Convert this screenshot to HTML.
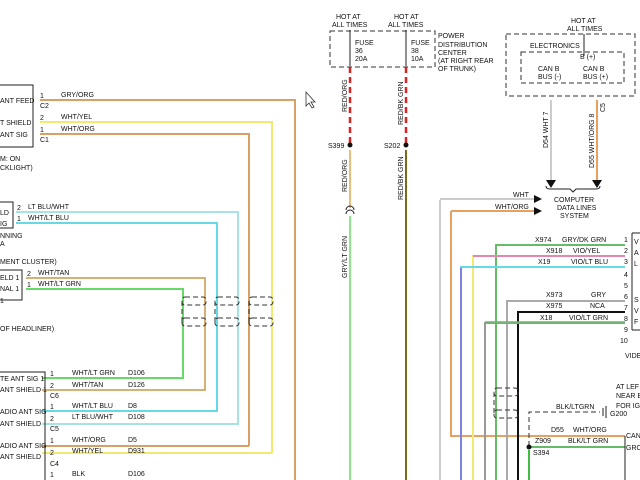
<!DOCTYPE html>
<html><head><meta charset="utf-8"><style>
html,body{margin:0;padding:0;background:#fff;width:640px;height:480px;overflow:hidden}
svg{display:block}
text{font-family:"Liberation Sans",sans-serif;font-size:7px;fill:#111}
</style></head><body>
<svg width="640" height="480" viewBox="0 0 640 480" xmlns="http://www.w3.org/2000/svg">
<rect width="640" height="480" fill="#fff"/>
<g fill="none" stroke-width="2">
<polyline points="40,100 295,100 295,480" stroke="#d9a066"/>
<polyline points="40,122 272,122 272,453" stroke="#f2ea70"/>
<polyline points="40,134 249,134 249,446" stroke="#d9a066"/>
<polyline points="42,453 272,453" stroke="#f2ea70"/>
<polyline points="42,446 249,446" stroke="#d9a066"/>
<polyline points="16,212 238,212 238,424 42,424" stroke="#a6e3e6"/>
<polyline points="16,223 217,223 217,411 42,411" stroke="#66d9e6"/>
<polyline points="26,278 205,278 205,390 42,390" stroke="#d9b073"/>
<polyline points="26,289 183,289 183,378 42,378" stroke="#66d966"/>
<line x1="350" y1="150" x2="350" y2="208" stroke="#e8a64d" stroke-width="1.5"/>
<line x1="350" y1="216" x2="350" y2="480" stroke="#66dd66" stroke-width="1.5"/>
<line x1="406" y1="150" x2="406" y2="480" stroke="#7a6a1a"/>
<line x1="440" y1="200" x2="440" y2="480" stroke="#cccccc"/>
<polyline points="440,199 540,199" stroke="#cccccc"/>
<polyline points="451,211 451,436 625,436" stroke="#e8a060"/>
<line x1="451" y1="211" x2="540" y2="211" stroke="#e8a060"/>
<line x1="551" y1="100" x2="551" y2="180" stroke="#cccccc"/>
<line x1="597" y1="100" x2="597" y2="180" stroke="#e8a060"/>
<polyline points="496,480 496,245 625,245" stroke="#66bb66"/>
<polyline points="473,480 473,256 625,256" stroke="#f2ea70"/>
<line x1="473" y1="256" x2="625" y2="256" stroke="#e066c0" stroke-width="1.5"/>
<polyline points="461,480 461,267 625,267" stroke="#66d9e6"/>
<line x1="461" y1="268" x2="461" y2="480" stroke="#8866dd" stroke-width="1.5"/>
<polyline points="507,480 507,301 625,301" stroke="#aaaaaa"/>
<polyline points="518,480 518,312 625,312" stroke="#111"/>
<polyline points="485,480 485,323 625,323" stroke="#999"/>
<line x1="485" y1="322" x2="625" y2="322" stroke="#66bb66" stroke-width="1.5"/>
<line x1="529" y1="447" x2="625" y2="447" stroke="#66bb66"/>
<line x1="529" y1="450" x2="529" y2="480" stroke="#44bb44"/>
</g>
<g stroke-width="2.5" stroke-dasharray="6,4" fill="none">
<line x1="350" y1="67" x2="350" y2="143" stroke="#dd2222"/>
<line x1="406" y1="67" x2="406" y2="143" stroke="#dd2222"/>
</g>
<g fill="none" stroke="#333" stroke-width="1" stroke-dasharray="5,3">
<rect x="330" y="31" width="105" height="36"/>
<rect x="506" y="34" width="129" height="62"/>
<rect x="521" y="52" width="103" height="31"/>
<polyline points="529,446 529,412 600,412"/>
<rect x="182" y="297" width="24" height="8" rx="3"/><rect x="182" y="318" width="24" height="8" rx="3"/>
<rect x="215" y="297" width="24" height="8" rx="3"/><rect x="215" y="318" width="24" height="8" rx="3"/>
<rect x="249" y="297" width="24" height="8" rx="3"/><rect x="249" y="318" width="24" height="8" rx="3"/>
<rect x="494" y="388" width="24" height="8" rx="3"/><rect x="494" y="410" width="24" height="8" rx="3"/>
<line x1="182" y1="301" x2="182" y2="322"/><line x1="215" y1="301" x2="215" y2="322"/><line x1="249" y1="301" x2="249" y2="322"/><line x1="494" y1="392" x2="494" y2="414"/>
</g>
<g stroke="#222" stroke-width="1" fill="none">
<line x1="350" y1="30" x2="350" y2="66"/><line x1="406" y1="30" x2="406" y2="66"/>
<line x1="584" y1="34" x2="584" y2="56"/>
<rect x="-5" y="85" width="38" height="62"/>
<rect x="-5" y="202" width="18" height="26"/>
<rect x="-5" y="270" width="27" height="30"/>
<rect x="-5" y="372" width="50" height="120"/>
<polyline points="632,233 640,233"/><line x1="632" y1="233" x2="632" y2="330"/><line x1="632" y1="330" x2="640" y2="330"/>
<polyline points="625,436 625,480"/>
<line x1="606" y1="406" x2="606" y2="418"/><line x1="603" y1="408" x2="603" y2="416"/>
<path d="M346,214 a4,4 0 0 1 8,0 M346,210 a4,4 0 0 1 8,0"/>
</g>
<g fill="#111">
<circle cx="350" cy="145" r="2.5"/><circle cx="406" cy="145" r="2.5"/><circle cx="529" cy="447" r="2.5"/>
<polygon points="546,180 556,180 551,188"/><polygon points="592,180 602,180 597,188"/>
<polygon points="534,195 542,199 534,203"/><polygon points="534,207 542,211 534,215"/>
</g>
<text x="0" y="103">ANT FEED</text><text x="0" y="125">T SHIELD</text><text x="0" y="137">ANT SIG</text>
<text x="0" y="161">M: ON</text><text x="0" y="170">CKLIGHT)</text>
<text x="0" y="215">LD</text><text x="0" y="226">IG</text><text x="0" y="238">NNING</text><text x="0" y="246">A</text>
<text x="0" y="264">MENT CLUSTER)</text><text x="0" y="280">ELD 1</text><text x="0" y="291">NAL 1</text><text x="0" y="303">1</text>
<text x="0" y="331">OF HEADLINER)</text>
<text x="0" y="381">TE ANT SIG 1</text><text x="0" y="392">ANT SHIELD 1</text>
<text x="0" y="414">ADIO ANT SIG</text><text x="0" y="426">ANT SHIELD</text>
<text x="0" y="448">ADIO ANT SIG</text><text x="0" y="459">ANT SHIELD</text>
<g font-size="6"><text x="40" y="98">1</text><text x="40" y="108">C2</text><text x="40" y="120">2</text><text x="40" y="132">1</text><text x="40" y="142">C1</text>
<text x="17" y="210">2</text><text x="17" y="221">1</text><text x="27" y="276">2</text><text x="27" y="287">1</text>
<text x="50" y="376">1</text><text x="50" y="388">2</text><text x="50" y="398">C6</text><text x="50" y="409">1</text><text x="50" y="421">2</text><text x="50" y="431">C5</text>
<text x="50" y="443">1</text><text x="50" y="455">2</text><text x="50" y="466">C4</text><text x="50" y="477">1</text></g>
<text x="61" y="97">GRY/ORG</text><text x="61" y="119">WHT/YEL</text><text x="61" y="131">WHT/ORG</text>
<text x="28" y="209">LT BLU/WHT</text><text x="28" y="220">WHT/LT BLU</text><text x="38" y="275">WHT/TAN</text><text x="38" y="286">WHT/LT GRN</text>
<text x="72" y="375">WHT/LT GRN</text><text x="128" y="375">D106</text><text x="72" y="387">WHT/TAN</text><text x="128" y="387">D126</text>
<text x="72" y="408">WHT/LT BLU</text><text x="128" y="408">D8</text><text x="72" y="419">LT BLU/WHT</text><text x="128" y="419">D108</text>
<text x="72" y="442">WHT/ORG</text><text x="128" y="442">D5</text><text x="72" y="453">WHT/YEL</text><text x="128" y="453">D931</text>
<text x="72" y="476">BLK</text><text x="128" y="476">D106</text>
<text x="336" y="19">HOT AT</text><text x="332" y="27">ALL TIMES</text><text x="394" y="19">HOT AT</text><text x="388" y="27">ALL TIMES</text>
<text x="355" y="45">FUSE</text><text x="355" y="53">36</text><text x="355" y="61">20A</text>
<text x="411" y="45">FUSE</text><text x="411" y="53">38</text><text x="411" y="61">10A</text>
<text x="438" y="38">POWER</text><text x="438" y="47">DISTRIBUTION</text><text x="438" y="55">CENTER</text><text x="438" y="63">(AT RIGHT REAR</text><text x="438" y="71">OF TRUNK)</text>
<text x="328" y="148" font-size="6">S399</text><text x="384" y="148" font-size="6">S202</text>
<g font-size="5.5"><text transform="translate(347,112) rotate(-90)">RED/ORG</text><text transform="translate(403,125) rotate(-90)">RED/BK GRN</text>
<text transform="translate(347,192) rotate(-90)">RED/ORG</text><text transform="translate(403,200) rotate(-90)">RED/BK GRN</text>
<text transform="translate(347,278) rotate(-90)">GRY/LT GRN</text>
<text transform="translate(548,148) rotate(-90)">D54  WHT  7</text><text transform="translate(594,168) rotate(-90)">D55  WHT/ORG  8</text>
<text transform="translate(605,112) rotate(-90)">C5</text></g>
<text x="571" y="23">HOT AT</text><text x="567" y="31">ALL TIMES</text>
<text x="530" y="48">ELECTRONICS</text><text x="580" y="59">B (+)</text>
<text x="538" y="71">CAN B</text><text x="538" y="79">BUS (-)</text><text x="583" y="71">CAN B</text><text x="583" y="79">BUS (+)</text>
<text x="513" y="197">WHT</text><text x="495" y="209">WHT/ORG</text>
<text x="554" y="202">COMPUTER</text><text x="557" y="210">DATA LINES</text><text x="560" y="218">SYSTEM</text>
<path d="M546,186 q0,3 4,3 h20 l3,3 l3,-3 h20 q4,0 4,-3" fill="none" stroke="#222"/>
<text x="535" y="242">X974</text><text x="562" y="242">GRY/DK GRN</text>
<text x="546" y="253">X918</text><text x="573" y="253">VIO/YEL</text>
<text x="538" y="264">X19</text><text x="571" y="264">VIO/LT BLU</text>
<text x="546" y="297">X973</text><text x="591" y="297">GRY</text>
<text x="546" y="308">X975</text><text x="590" y="308">NCA</text>
<text x="540" y="320">X18</text><text x="569" y="320">VIO/LT GRN</text>
<g font-size="6.5"><text x="624" y="242">1</text><text x="624" y="253">2</text><text x="624" y="264">3</text><text x="624" y="277">4</text><text x="624" y="288">5</text><text x="624" y="299">6</text><text x="624" y="310">7</text><text x="624" y="321">8</text><text x="624" y="332">9</text><text x="620" y="343">10</text></g>
<text x="634" y="244">V</text><text x="634" y="255">A</text><text x="634" y="266">L</text><text x="634" y="302">S</text><text x="634" y="313">V</text><text x="634" y="324">F</text>
<text x="625" y="358">VIDE</text>
<text x="616" y="389">AT LEF</text><text x="616" y="398">NEAR B</text><text x="616" y="408">FOR IG</text><text x="610" y="416">G200</text>
<text x="556" y="409">BLK/LTGRN</text>
<text x="551" y="432">D55</text><text x="573" y="432">WHT/ORG</text>
<text x="535" y="443">Z909</text><text x="568" y="443">BLK/LT GRN</text>
<text x="533" y="455" font-size="6">S394</text>
<text x="626" y="438">CAN</text><text x="626" y="450">GRO</text>
<path d="M306,92 l0,14 l3,-3 l3,5 l2,-1 l-3,-5 l4,0 z" fill="#fff" stroke="#333" stroke-width="0.8"/>
</svg>
</body></html>
